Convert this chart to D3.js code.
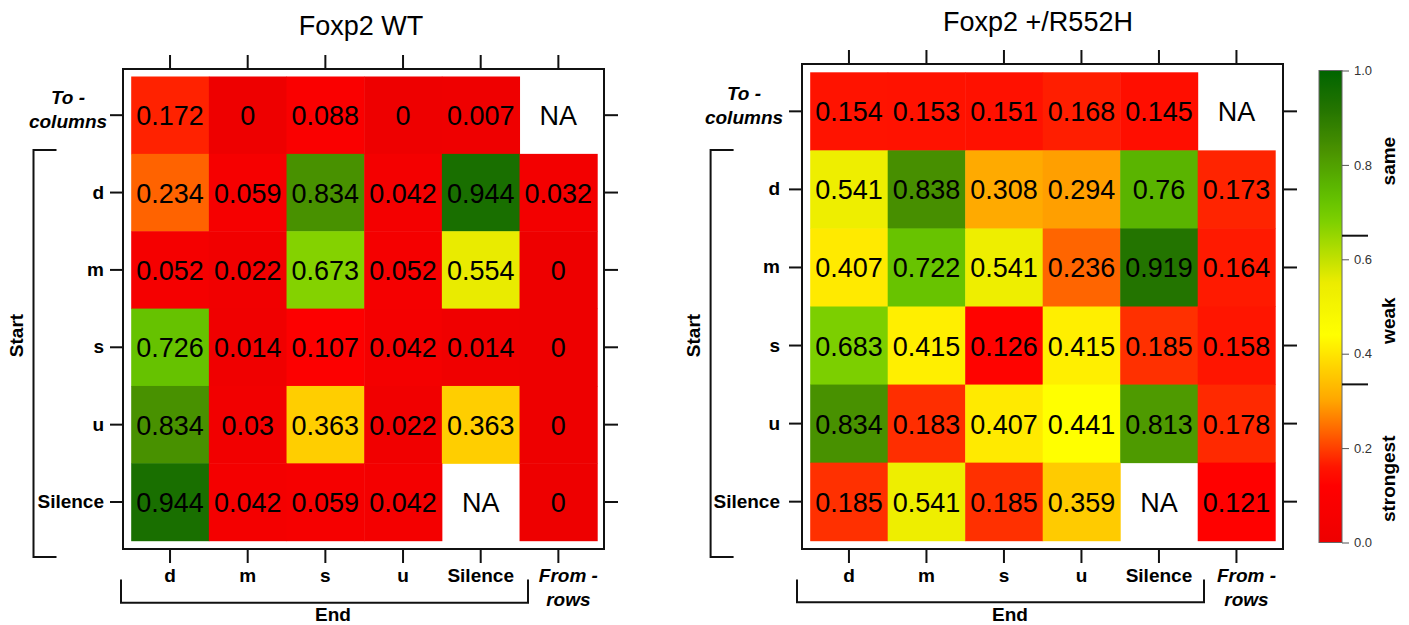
<!DOCTYPE html>
<html>
<head>
<meta charset="utf-8">
<script src="https://cdn.jsdelivr.net/npm/d3@7"></script>
<style>
  html, body { margin: 0; padding: 0; background: #fff; }
  svg { display: block; font-family: "Liberation Sans", Arial, Helvetica, sans-serif; }
</style>
</head>
<body>
<svg id="chart" width="1409" height="625"></svg>
<script>
// Transition matrices: rows = start element, columns = end element
const rowLabels = [["To -", "columns"], ["d"], ["m"], ["s"], ["u"], ["Silence"]];
const colLabels = [["d"], ["m"], ["s"], ["u"], ["Silence"], ["From -", "rows"]];
const rowItalic = [true, false, false, false, false, false];
const colItalic = [false, false, false, false, false, true];

const wtValues = [
  [0.172, 0,     0.088, 0,     0.007, null],
  [0.234, 0.059, 0.834, 0.042, 0.944, 0.032],
  [0.052, 0.022, 0.673, 0.052, 0.554, 0],
  [0.726, 0.014, 0.107, 0.042, 0.014, 0],
  [0.834, 0.03,  0.363, 0.022, 0.363, 0],
  [0.944, 0.042, 0.059, 0.042, null,  0]
];
const r552hValues = [
  [0.154, 0.153, 0.151, 0.168, 0.145, null],
  [0.541, 0.838, 0.308, 0.294, 0.76,  0.173],
  [0.407, 0.722, 0.541, 0.236, 0.919, 0.164],
  [0.683, 0.415, 0.126, 0.415, 0.185, 0.158],
  [0.834, 0.183, 0.407, 0.441, 0.813, 0.178],
  [0.185, 0.541, 0.185, 0.359, null,  0.121]
];
const panelTitles = ["Foxp2 WT", "Foxp2 +/R552H"];

// Colour key
const keyTicks = [0, 0.2, 0.4, 0.6, 0.8, 1.0];
const keyBreaks = [0.335, 0.65];
const keyBands = [
  { label: "strongest", pos: 0.135 },
  { label: "weak",      pos: 0.47 },
  { label: "same",      pos: 0.808 }
];
const colorStops = [0.0, 0.12, 0.16, 0.185, 0.235, 0.30, 0.36, 0.44, 0.55, 0.68, 0.725, 0.76, 0.83, 0.92, 1.0];
const colorValues = ["#ee0000", "#ff0000", "#ff1600", "#ff3000", "#ff6400", "#ffa500", "#ffcc00", "#ffff00",
                     "#ecec00", "#7ed000", "#66c200", "#5ab400", "#4a9200", "#237400", "#006400"];

const color = d3.scaleLinear().domain(colorStops).range(colorValues).interpolate(d3.interpolateRgb).clamp(true);

const svg = d3.select("#chart");

const panels = [
  { title: panelTitles[0], values: wtValues,
    gx: 131.2, gy: 76.5, gw: 466, gh: 464.2,
    box: { x0: 123, x1: 604, y0: 69, y1: 549 },
    titleX: 361, titleY: 35,
    rowLabelX: 104, rowLabel2X: 68,
    bracketX: 33.5, bracketTop: 150, bracketBottom: 557, startX: 16,
    endBracket: { x0: 121, x1: 528, y: 602.7, top: 579.5 }, endX: 333 },
  { title: panelTitles[1], values: r552hValues,
    gx: 810.2, gy: 72.3, gw: 465, gh: 468.4,
    box: { x0: 802, x1: 1283, y0: 64, y1: 549 },
    titleX: 1038, titleY: 31,
    rowLabelX: 780, rowLabel2X: 744,
    bracketX: 710.6, bracketTop: 150, bracketBottom: 557, startX: 693,
    endBracket: { x0: 797, x1: 1204, y: 602.3, top: 579.5 }, endX: 1010 }
];

const tickLen = 14;
const labelSize = 19;

panels.forEach(p => {
  const g = svg.append("g");
  const x = d3.scaleBand().domain(d3.range(colLabels.length)).range([p.gx, p.gx + p.gw]).padding(0);
  const y = d3.scaleBand().domain(d3.range(rowLabels.length)).range([p.gy, p.gy + p.gh]).padding(0);

  const cells = [];
  p.values.forEach((row, i) => row.forEach((v, j) => cells.push({ i, j, v })));

  // tiles
  g.selectAll("rect.cell").data(cells.filter(d => d.v !== null)).join("rect")
    .attr("class", "cell")
    .attr("x", d => x(d.j)).attr("y", d => y(d.i))
    .attr("width", x.bandwidth() + 0.5).attr("height", y.bandwidth() + 0.5)
    .attr("fill", d => color(d.v));

  // values
  g.selectAll("text.val").data(cells).join("text")
    .attr("class", "val")
    .attr("x", d => x(d.j) + x.bandwidth() / 2)
    .attr("y", d => y(d.i) + y.bandwidth() / 2 + 10)
    .attr("text-anchor", "middle")
    .attr("font-size", 27)
    .attr("fill", "#000")
    .text(d => d.v === null ? "NA" : String(d.v));

  // frame
  g.append("rect")
    .attr("x", p.box.x0).attr("y", p.box.y0)
    .attr("width", p.box.x1 - p.box.x0).attr("height", p.box.y1 - p.box.y0)
    .attr("fill", "none").attr("stroke", "#111").attr("stroke-width", 2);

  // axes ticks on all four sides
  const xTop = d3.axisTop(x).tickSize(tickLen).tickFormat("");
  const xBottom = d3.axisBottom(x).tickSize(tickLen).tickFormat("");
  const yLeft = d3.axisLeft(y).tickSize(13).tickFormat("");
  const yRight = d3.axisRight(y).tickSize(tickLen).tickFormat("");
  [[xTop, `translate(0,${p.box.y0})`], [xBottom, `translate(0,${p.box.y1})`],
   [yLeft, `translate(${p.box.x0},0)`], [yRight, `translate(${p.box.x1},0)`]].forEach(([ax, tr]) => {
    const a = g.append("g").attr("transform", tr).call(ax);
    a.select(".domain").remove();
    a.selectAll("line").attr("stroke", "#111").attr("stroke-width", 2);
  });

  // row labels
  rowLabels.forEach((lines, i) => {
    const cy = y(i) + y.bandwidth() / 2;
    if (lines.length === 1) {
      g.append("text")
        .attr("x", p.rowLabelX).attr("y", cy + 6)
        .attr("text-anchor", "end").attr("font-weight", "bold")
        .attr("font-style", rowItalic[i] ? "italic" : "normal")
        .attr("font-size", labelSize).text(lines[0]);
    } else {
      const t = g.append("text")
        .attr("text-anchor", "middle").attr("font-weight", "bold")
        .attr("font-style", rowItalic[i] ? "italic" : "normal")
        .attr("font-size", labelSize);
      lines.forEach((ln, k) => {
        t.append("tspan").attr("x", p.rowLabel2X).attr("y", cy - 11 + k * 24).text(ln);
      });
    }
  });

  // column labels
  colLabels.forEach((lines, j) => {
    const cx = x(j) + x.bandwidth() / 2;
    const t = g.append("text")
      .attr("text-anchor", "middle").attr("font-weight", "bold")
      .attr("font-style", colItalic[j] ? "italic" : "normal")
      .attr("font-size", labelSize);
    lines.forEach((ln, k) => {
      t.append("tspan").attr("x", lines.length > 1 ? cx + 10 : cx).attr("y", p.box.y1 + 33 + k * 24).text(ln);
    });
  });

  // title
  g.append("text")
    .attr("x", p.titleX).attr("y", p.titleY)
    .attr("text-anchor", "middle").attr("font-size", 27)
    .text(p.title);

  // "Start" bracket
  g.append("path")
    .attr("d", `M${p.bracketX + 23},${p.bracketTop}H${p.bracketX}V${p.bracketBottom}H${p.bracketX + 23}`)
    .attr("fill", "none").attr("stroke", "#111").attr("stroke-width", 2);
  g.append("text")
    .attr("transform", `translate(${p.startX},${(p.bracketTop + p.bracketBottom) / 2 - 18}) rotate(-90)`)
    .attr("text-anchor", "middle").attr("dominant-baseline", "central")
    .attr("font-weight", "bold").attr("font-size", labelSize)
    .text("Start");

  // "End" bracket
  const eb = p.endBracket;
  g.append("path")
    .attr("d", `M${eb.x0},${eb.top}V${eb.y}H${eb.x1}V${eb.top}`)
    .attr("fill", "none").attr("stroke", "#111").attr("stroke-width", 2);
  g.append("text")
    .attr("x", p.endX).attr("y", 621)
    .attr("text-anchor", "middle").attr("font-weight", "bold").attr("font-size", labelSize)
    .text("End");
});

// colour key
const key = { x: 1319, w: 23, y0: 70.5, y1: 542.5 };
const ky = d3.scaleLinear().domain([0, 1]).range([key.y1, key.y0]);
const defs = svg.append("defs");
const grad = defs.append("linearGradient").attr("id", "keyGrad")
  .attr("x1", 0).attr("y1", 1).attr("x2", 0).attr("y2", 0);
d3.range(0, 1.0001, 0.01).forEach(t => {
  grad.append("stop").attr("offset", t).attr("stop-color", color(t));
});
const kg = svg.append("g");
kg.append("rect")
  .attr("x", key.x).attr("y", key.y0).attr("width", key.w).attr("height", key.y1 - key.y0)
  .attr("fill", "url(#keyGrad)").attr("stroke", "#666").attr("stroke-width", 1);

const kAxis = kg.append("g").attr("transform", `translate(${key.x + key.w},0)`)
  .call(d3.axisRight(ky).tickValues(keyTicks).tickSize(7).tickPadding(5).tickFormat(d3.format(".1f")));
kAxis.select(".domain").remove();
kAxis.selectAll("line").attr("stroke", "#555");
kAxis.selectAll("text").attr("font-size", 13).attr("fill", "#333")
  .attr("font-family", "'Liberation Sans', Arial, sans-serif");

kg.selectAll("line.brk").data(keyBreaks).join("line")
  .attr("class", "brk")
  .attr("x1", key.x + key.w).attr("x2", key.x + key.w + 26)
  .attr("y1", d => ky(d)).attr("y2", d => ky(d))
  .attr("stroke", "#111").attr("stroke-width", 2);

kg.selectAll("text.band").data(keyBands).join("text")
  .attr("class", "band")
  .attr("transform", d => `translate(1388,${ky(d.pos)}) rotate(-90)`)
  .attr("text-anchor", "middle").attr("dominant-baseline", "central")
  .attr("font-weight", "bold").attr("font-size", 19)
  .text(d => d.label);
</script>
</body>
</html>
